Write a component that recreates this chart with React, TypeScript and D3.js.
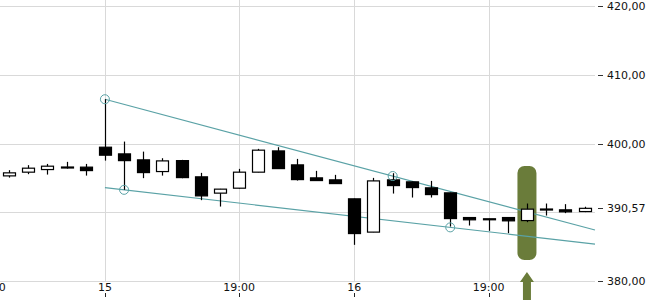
import React from "react";
import * as d3 from "d3";

const W = 650;
const H = 300;

// hourly candles (index 0 = day 14 20:00)
const times = [
  "14 20:00", "14 21:00", "14 22:00", "14 23:00", "14 24:00",
  "15 12:00", "15 13:00", "15 14:00", "15 15:00", "15 16:00", "15 17:00", "15 18:00",
  "15 19:00", "15 20:00", "15 21:00", "15 22:00", "15 23:00", "15 24:00",
  "16 12:00", "16 13:00", "16 14:00", "16 15:00", "16 16:00", "16 17:00", "16 18:00",
  "16 19:00", "16 20:00", "16 21:00", "16 22:00", "16 23:00", "16 24:00",
];
const opens = [
  395.29, 395.83, 396.21, 396.55, 396.56, 399.46, 398.49, 397.62, 395.92, 397.51, 395.15,
  392.78, 393.5, 395.83, 398.92, 396.89, 395.0, 394.71, 391.95, 387.11, 394.71, 394.42,
  393.55, 392.82, 389.23, 389.05, 389.23, 388.79, 390.45, 390.35, 390.1,
];
const highs = [
  396.12, 396.85, 397.03, 397.33, 397.03, 406.44, 400.28, 398.82, 397.86, 397.62, 395.73,
  393.4, 396.31, 399.22, 399.46, 397.76, 396.02, 395.44, 391.98, 395.0, 395.68, 394.45,
  394.56, 392.85, 389.25, 389.06, 389.25, 391.27, 391.27, 391.18, 390.8,
];
const lows = [
  395.04, 395.54, 395.48, 396.35, 395.33, 397.51, 393.26, 394.96, 395.33, 394.95, 391.76,
  390.83, 393.45, 395.8, 396.3, 394.61, 394.6, 394.15, 385.26, 387.1, 392.72, 392.14,
  392.14, 387.92, 388.07, 387.3, 386.96, 388.56, 389.52, 389.87, 390.02,
];
const closes = [
  395.73, 396.41, 396.7, 396.58, 396.06, 398.3, 397.51, 395.77, 397.47, 395.04, 392.38,
  393.36, 395.83, 399.03, 396.35, 394.75, 394.61, 394.17, 386.9, 394.56, 393.88, 393.59,
  392.57, 389.08, 388.9, 389.02, 388.75, 390.45, 390.47, 390.06, 390.57,
];

const yTicks = [380, 390, 400, 410, 420];
const yLabels = [380, 390.57, 400, 410, 420];
const xTickIdx = [-1, 5, 12, 18, 25];
const xTickLabels = ["19:00", "15", "19:00", "16", "19:00"];

// trend lines: anchor points [index, value]
const upperTrend: [number, number][] = [[5, 406.44], [20, 395.27]];
const lowerTrend: [number, number][] = [[6, 393.26], [23, 387.8]];
const lowerStartIdx = 5;
const pivots: [number, number][] = [[5, 406.44], [6, 393.26], [20, 395.27], [23, 387.8]];
const signalIdx = 27;

const TEAL = "#5aa2a6";
const OLIVE = "#6a7c3a";
const GRID = "#d9d9d9";
const FONT = "DejaVu Sans, sans-serif";

export default function App() {
  const plotRight = 595;
  const x = d3.scaleLinear().domain([0, 30]).range([9, 584.5]);
  const y = d3.scaleLinear().domain([380, 420]).range([281, 6]);
  const bw = 12;
  const rightIdx = x.invert(plotRight);

  const extend = (pts: [number, number][], startIdx: number) => {
    const [[i0, v0], [i1, v1]] = pts;
    const slope = (v1 - v0) / (i1 - i0);
    const f = (i: number) => v0 + slope * (i - i0);
    return [
      [x(startIdx), y(f(startIdx))],
      [x(rightIdx), y(f(rightIdx))],
    ] as [number, number][];
  };
  const line = d3.line();
  const up = extend(upperTrend, upperTrend[0][0]);
  const lo = extend(lowerTrend, lowerStartIdx);

  const sx = x(signalIdx);

  return (
    <svg
      width={W}
      height={H}
      style={{ position: "absolute", left: 0, top: 0, background: "#fff" }}
      fontFamily={FONT}
    >
      {/* grid */}
      {yTicks.map((t) => (
        <line key={"gy" + t} x1={0} x2={plotRight} y1={Math.round(y(t)) + 0.5} y2={Math.round(y(t)) + 0.5} stroke={GRID} />
      ))}
      {xTickIdx.map((i) => (
        <line key={"gx" + i} x1={Math.round(x(i)) + 0.5} x2={Math.round(x(i)) + 0.5} y1={0} y2={281} stroke={GRID} />
      ))}
      {/* x labels */}
      {xTickIdx.map((i, k) => (
        <g key={"xl" + i}>
          <text x={x(i)} y={290.5} fontSize={11} textAnchor="middle" fill="#111">
            {xTickLabels[k]}
          </text>
          <line x1={Math.round(x(i)) + 0.5} x2={Math.round(x(i)) + 0.5} y1={293} y2={297} stroke="#222" />
        </g>
      ))}
      {/* y labels */}
      {yLabels.map((t) => (
        <g key={"yl" + t}>
          <line x1={598} x2={603} y1={Math.round(y(t)) + 0.5} y2={Math.round(y(t)) + 0.5} stroke="#333" />
          <text x={607} y={y(t) + 4} fontSize={11} fill="#111">
            {d3.format(".2f")(t).replace(".", ",")}
          </text>
        </g>
      ))}
      {/* signal highlight */}
      <rect x={sx - 9.5} y={166} width={19} height={94} rx={7} fill={OLIVE} />
      <path
        d={`M${sx},272 L${sx + 7},282 L${sx + 4},282 L${sx + 4},300 L${sx - 4},300 L${sx - 4},282 L${sx - 7},282 Z`}
        fill={OLIVE}
      />
      {/* trend lines */}
      <path d={line(up) || ""} stroke={TEAL} strokeWidth={1.2} fill="none" />
      <path d={line(lo) || ""} stroke={TEAL} strokeWidth={1.2} fill="none" />
      {/* candles */}
      {times.map((t, i) => {
        const o = opens[i], c = closes[i], h = highs[i], l = lows[i];
        const cx = Math.round(x(i)) + 0.5;
        const top = y(Math.max(o, c));
        const bot = y(Math.min(o, c));
        const bull = c >= o;
        const bh = Math.max(bot - top, 1);
        return (
          <g key={t}>
            <line x1={cx} x2={cx} y1={y(h)} y2={y(l)} stroke="#000" strokeWidth={1.2} />
            <rect
              x={cx - bw / 2}
              y={top}
              width={bw}
              height={bh}
              fill={bull ? "#fff" : "#000"}
              stroke="#000"
              strokeWidth={1.2}
            />
          </g>
        );
      })}
      {/* pivot circles */}
      {pivots.map(([i, v]) => (
        <circle key={"p" + i} cx={x(i)} cy={y(v)} r={4.5} fill="none" stroke={TEAL} strokeWidth={1} />
      ))}
    </svg>
  );
}
